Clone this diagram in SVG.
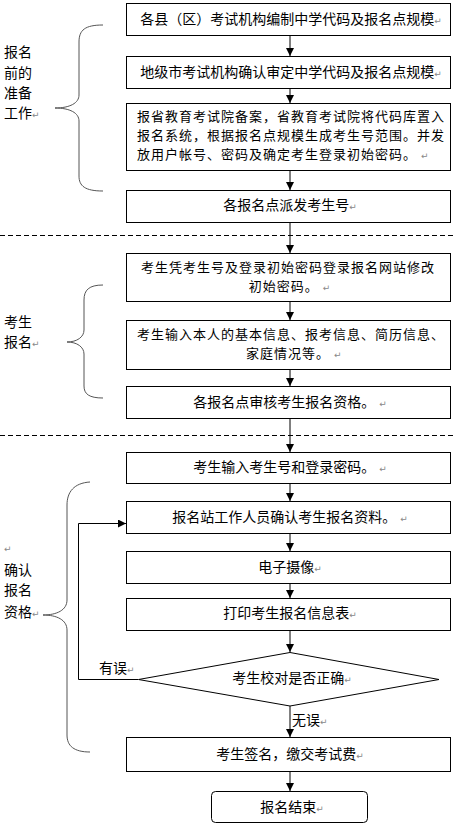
<svg xmlns="http://www.w3.org/2000/svg" width="456" height="826" viewBox="0 0 456 826">
<style>
.box{fill:#fff;stroke:#000;stroke-width:1}
.t{font-family:"Noto Sans CJK SC","Liberation Sans",sans-serif;font-size:14px;fill:#000}
.m{font-family:"Noto Sans CJK SC","Liberation Sans",sans-serif;font-size:13px;fill:#000}
.c{text-anchor:middle}
.pm{font-family:"DejaVu Sans",sans-serif;font-size:9px;fill:#888}
.brace{fill:none;stroke:#555;stroke-width:1}
.dash{stroke:#000;stroke-width:1;stroke-dasharray:5 3}
.ln{fill:none;stroke:#000;stroke-width:1}
</style>
<defs>
<marker id="ah" viewBox="0 0 8 8" refX="8" refY="4" markerWidth="8" markerHeight="8" markerUnits="userSpaceOnUse" orient="auto">
<path d="M0,0 L8,4 L0,8 Z" fill="#000"/>
</marker>
</defs>
<rect width="456" height="826" fill="#fff"/>
<g id="separators">
<line class="dash" x1="0" y1="235.5" x2="456" y2="235.5"/>
<line class="dash" x1="0" y1="435.5" x2="456" y2="435.5"/>
</g>
<g id="connectors">
<line class="ln" x1="290" y1="35" x2="290" y2="56" marker-end="url(#ah)"/>
<line class="ln" x1="290" y1="88" x2="290" y2="103" marker-end="url(#ah)"/>
<line class="ln" x1="290" y1="170" x2="290" y2="190" marker-end="url(#ah)"/>
<line class="ln" x1="290" y1="222" x2="290" y2="253" marker-end="url(#ah)"/>
<line class="ln" x1="290" y1="301" x2="290" y2="320" marker-end="url(#ah)"/>
<line class="ln" x1="290" y1="369" x2="290" y2="386" marker-end="url(#ah)"/>
<line class="ln" x1="290" y1="418" x2="290" y2="452" marker-end="url(#ah)"/>
<line class="ln" x1="290" y1="483" x2="290" y2="501" marker-end="url(#ah)"/>
<line class="ln" x1="290" y1="533" x2="290" y2="551" marker-end="url(#ah)"/>
<line class="ln" x1="290" y1="583" x2="290" y2="598" marker-end="url(#ah)"/>
<line class="ln" x1="290" y1="630" x2="290" y2="652" marker-end="url(#ah)"/>
<line class="ln" x1="290" y1="706" x2="290" y2="737" marker-end="url(#ah)"/>
<line class="ln" x1="290" y1="771" x2="290" y2="791" marker-end="url(#ah)"/>
<path class="ln" d="M138,679.5 H78.5 V523.5 H126" marker-end="url(#ah)"/>
<text class="t" x="99" y="673" font-size="13">有误<tspan class="pm">↵</tspan></text>
<text class="t" x="292" y="725" font-size="13">无误<tspan class="pm">↵</tspan></text>
</g>
<g id="n1"><rect class="box" x="126.5" y="3.5" width="324" height="32"/>
<text class="t c" x="291" y="24">各县（区）考试机构编制中学代码及报名点规模<tspan class="pm">↵</tspan></text></g>
<g id="n2"><rect class="box" x="126.5" y="56.5" width="324" height="32"/>
<text class="t c" x="291" y="77">地级市考试机构确认审定中学代码及报名点规模<tspan class="pm">↵</tspan></text></g>
<g id="n3"><rect class="box" x="126.5" y="103.5" width="324" height="67"/>
<text class="m" letter-spacing="1"><tspan x="137" y="121">报省教育考试院备案，省教育考试院将代码库置入</tspan><tspan x="137" y="140">报名系统，根据报名点规模生成考生号范围。并发</tspan><tspan x="137" y="159">放用户帐号、密码及确定考生登录初始密码。</tspan><tspan class="pm" dx="4">↵</tspan></text></g>
<g id="n4"><rect class="box" x="126.5" y="190.5" width="324" height="32"/>
<text class="t c" x="290" y="210">各报名点派发考生号<tspan class="pm">↵</tspan></text></g>
<g id="n5"><rect class="box" x="126.5" y="253.5" width="324" height="48"/>
<text class="m c" letter-spacing="1"><tspan x="288" y="272">考生凭考生号及登录初始密码登录报名网站修改</tspan><tspan x="290" y="291">初始密码。<tspan class="pm" dx="4">↵</tspan></tspan></text></g>
<g id="n6"><rect class="box" x="126.5" y="320.5" width="324" height="49"/>
<text class="m" letter-spacing="1"><tspan x="137" y="339">考生输入本人的基本信息、报考信息、简历信息、</tspan><tspan x="246" y="358">家庭情况等。</tspan><tspan class="pm" dx="4">↵</tspan></text></g>
<g id="n7"><rect class="box" x="126.5" y="386.5" width="324" height="32"/>
<text class="t c" x="290" y="407">各报名点审核考生报名资格。<tspan class="pm" dx="4">↵</tspan></text></g>
<g id="n8"><rect class="box" x="126.5" y="452.5" width="324" height="31"/>
<text class="t c" x="290" y="472">考生输入考生号和登录密码。<tspan class="pm" dx="4">↵</tspan></text></g>
<g id="n9"><rect class="box" x="126.5" y="501.5" width="324" height="32"/>
<text class="t c" x="290" y="522">报名站工作人员确认考生报名资料。<tspan class="pm" dx="4">↵</tspan></text></g>
<g id="n10"><rect class="box" x="126.5" y="551.5" width="324" height="32"/>
<text class="t c" x="290" y="572">电子摄像<tspan class="pm">↵</tspan></text></g>
<g id="n11"><rect class="box" x="126.5" y="598.5" width="324" height="32"/>
<text class="t c" x="290" y="618">打印考生报名信息表<tspan class="pm">↵</tspan></text></g>
<g id="n12"><path class="box" d="M290,652.5 L439,679.5 L290,706 L138.5,679.5 Z"/>
<text class="t c" x="292" y="683">考生校对是否正确<tspan class="pm">↵</tspan></text></g>
<g id="n13"><rect class="box" x="126.5" y="737.5" width="324" height="34"/>
<text class="t c" x="290" y="759">考生签名，缴交考试费<tspan class="pm">↵</tspan></text></g>
<g id="n14"><rect class="box" x="211.5" y="791.5" width="156" height="31" rx="4"/>
<text class="t c" x="292" y="812">报名结束<tspan class="pm">↵</tspan></text></g>
<g id="stage1">
<path class="brace" d="M103,25 C85,25 79,30 79,42 V95 C79,103 70,108 55,108 C70,108 79,113 79,121 V176 C79,186 85,191 103,191"/>
<text class="t"><tspan x="4" y="57">报名</tspan><tspan x="4" y="78">前的</tspan><tspan x="4" y="98">准备</tspan><tspan x="4" y="118">工作</tspan><tspan class="pm">↵</tspan></text>
</g>
<g id="stage2">
<path class="brace" d="M103,285 C89,285 84,290 84,300 V330 C84,337 77,342 67,342 C77,342 84,347 84,354 V386 C84,394 89,398 103,398"/>
<text class="t"><tspan x="4" y="327">考生</tspan><tspan x="4" y="347">报名</tspan><tspan class="pm">↵</tspan></text>
</g>
<g id="stage3">
<path class="brace" d="M90,482 C74,483 67,492 67,505 V600 C67,610 57,615 43,615 C57,615 67,620 67,630 V735 C67,746 74,752 90,752"/>
<text class="t"><tspan class="pm" x="4" y="552">↵</tspan><tspan x="4" y="575">确认</tspan><tspan x="4" y="595">报名</tspan><tspan x="4" y="617">资格</tspan><tspan class="pm">↵</tspan></text>
</g>
</svg>
